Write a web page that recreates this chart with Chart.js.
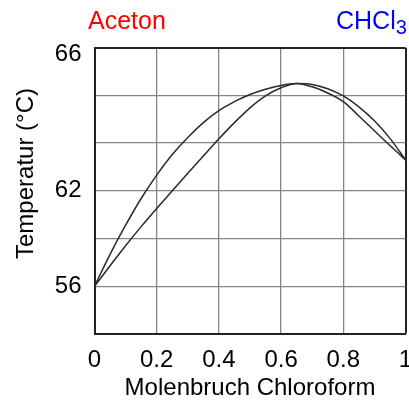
<!DOCTYPE html>
<html>
<head>
<meta charset="utf-8">
<script src="https://cdn.jsdelivr.net/npm/chart.js@4"></script>
<style>
  html, body { margin: 0; padding: 0; background: #fff; }
  #wrap { width: 409px; height: 401px; }
</style>
</head>
<body>
<div id="wrap"><canvas id="chart"></canvas></div>
<script>
// mole fraction chloroform
const xValues = [0, 0.05, 0.1, 0.15, 0.2, 0.25, 0.3, 0.35, 0.4, 0.45, 0.5, 0.55, 0.6, 0.65,
  0.7, 0.75, 0.8, 0.85, 0.9, 0.95, 1]
// curves in grid units (0 = bottom line, 6 = top line)
const dewCurve = [1, 1.67, 2.28, 2.84, 3.33, 3.76, 4.12, 4.43, 4.68, 4.87, 5.02, 5.13, 5.21, 5.25,
  5.23, 5.14, 4.99, 4.76, 4.47, 4.1, 3.65]
const bubbleCurve = [1, 1.43, 1.85, 2.25, 2.63, 3.0, 3.37, 3.73, 4.09, 4.43, 4.74, 4.99, 5.16, 5.25,
  5.18, 5.05, 4.87, 4.57, 4.26, 3.95, 3.65]

const xTickLabels = ["0", "0.2", "0.4", "0.6", "0.8", "1"]
const yTickLabels = ["", "56", "", "62", "", "", "66"]

const FONT = '"Liberation Sans", Arial, sans-serif'

const toPoints = (ys) => xValues.map((x, i) => ({ x: x, y: ys[i] }))

const textPlugin = {
  id: "texts",
  afterDraw(chart) {
    const ctx = chart.ctx
    const area = chart.chartArea
    ctx.save()
    ctx.textBaseline = "alphabetic"
    ctx.textAlign = "left"
    ctx.font = "25px " + FONT
    ctx.fillStyle = "#ff0000"
    ctx.fillText("Aceton", area.left - 6.5, 28.5)
    ctx.fillStyle = "#0000ff"
    ctx.fillText("CHCl", 336, 28.5)
    const w = ctx.measureText("CHCl").width
    ctx.font = "20px " + FONT
    ctx.fillText("3", 336 + w, 33.5)

    // y axis title
    ctx.fillStyle = "#000"
    ctx.font = "24px " + FONT
    ctx.translate(32.5, 173.5)
    ctx.rotate(-Math.PI / 2)
    ctx.textAlign = "center"
    ctx.fillText("Temperatur (°C)", 0, 0)
    ctx.restore()
  }
}

const ctx = document.getElementById("chart").getContext("2d")
new Chart(ctx, {
  type: "scatter",
  data: {
    datasets: [
      {
        label: "Dampf",
        data: toPoints(dewCurve),
        showLine: true,
        borderColor: "#2a2a2a",
        borderWidth: 1.5,
        pointRadius: 0,
        cubicInterpolationMode: "monotone"
      },
      {
        label: "Flüssigkeit",
        data: toPoints(bubbleCurve),
        showLine: true,
        borderColor: "#2a2a2a",
        borderWidth: 1.5,
        pointRadius: 0,
        cubicInterpolationMode: "monotone"
      }
    ]
  },
  options: {
    responsive: true,
    maintainAspectRatio: false,
    animation: false,
    layout: {
      autoPadding: false,
      padding: { top: 47.7, right: 3.5, bottom: 0, left: 0 }
    },
    plugins: {
      legend: { display: false },
      tooltip: { enabled: false }
    },
    scales: {
      x: {
        type: "linear",
        min: 0,
        max: 1,
        afterFit: (scale) => {
          scale.height = 67
          scale.paddingLeft = 0
          scale.paddingRight = 0
        },
        ticks: {
          stepSize: 0.2,
          padding: 12,
          color: "#000",
          maxRotation: 0,
          font: { family: FONT, size: 24 },
          callback: (value, index) => xTickLabels[index]
        },
        grid: {
          drawTicks: false,
          color: (c) => (c.tick && c.tick.value === 1 ? "#222" : "#858585"),
          lineWidth: (c) => (c.tick && c.tick.value === 1 ? 2 : 1.3)
        },
        border: { color: "#222", width: 2 },
        title: {
          display: true,
          text: "Molenbruch Chloroform",
          color: "#000",
          font: { family: FONT, size: 24 },
          padding: { top: 0, bottom: -2 }
        }
      },
      y: {
        min: 0,
        max: 6,
        afterFit: (scale) => {
          scale.width = 94.5
          scale.paddingTop = 0
          scale.paddingBottom = 0
        },
        ticks: {
          stepSize: 1,
          padding: 13,
          color: "#000",
          font: (c) => (c.index === 6
            ? { family: FONT, size: 24, lineHeight: 0.54 }
            : { family: FONT, size: 24 }),
          callback: (value, index) => (index === 6 ? ["", yTickLabels[index]] : yTickLabels[index])
        },
        grid: {
          drawTicks: false,
          color: (c) => (c.tick && c.tick.value === 6 ? "#222" : "#858585"),
          lineWidth: (c) => (c.tick && c.tick.value === 6 ? 2 : 1.3)
        },
        border: { color: "#222", width: 2 }
      }
    }
  },
  plugins: [textPlugin]
})
</script>
</body>
</html>
